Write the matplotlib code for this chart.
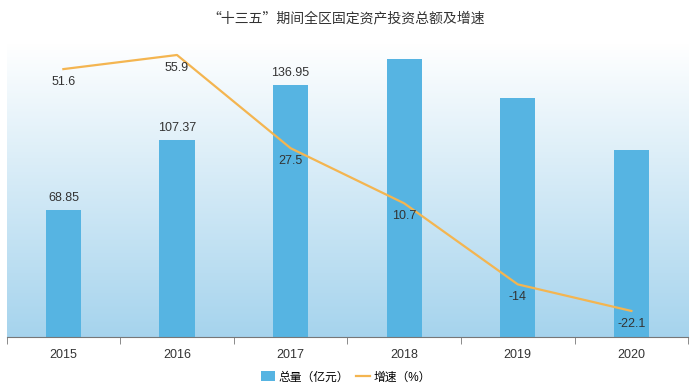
import numpy as np
import matplotlib.pyplot as plt
from matplotlib.patches import Patch
from matplotlib.lines import Line2D

plt.rcParams['font.family'] = ['Liberation Sans', 'Noto Sans CJK SC', 'DejaVu Sans']

years = ["2015", "2016", "2017", "2018", "2019", "2020"]
total = [68.85, 107.37, 136.95, 151.6, 130.4, 101.6]          # 亿元
growth = [51.6, 55.9, 27.5, 10.7, -14, -22.1]                  # %
total_labels = ["68.85", "107.37", "136.95", "", "", ""]
growth_labels = ["51.6", "55.9", "27.5", "10.7", "-14", "-22.1"]

bar_color = "#56b4e2"
line_color = "#f4b550"

fig = plt.figure(figsize=(6.92, 3.89), dpi=100)
ax = fig.add_axes([0.0095, 0.134, 0.985, 0.755])
x = np.arange(len(years))

# gradient background (white at top -> light blue at bottom)
grad = np.linspace(0, 1, 256).reshape(-1, 1)
top = np.array([1.0, 1.0, 1.0])
bot = np.array([0.65, 0.83, 0.93])
img = top + (bot - top) * grad[..., None]
ax.imshow(img, extent=[-0.5, 5.5, 0, 160], aspect="auto", zorder=0, origin="upper")

ax.bar(x, total, width=0.31, color=bar_color, zorder=2)
for xi, v, lab in zip(x, total, total_labels):
    if lab:
        ax.annotate(lab, (xi, v), xytext=(0, 12), textcoords="offset pixels",
                    ha="center", va="center", fontsize=9, color="#333333")

ax.set_xlim(-0.5, 5.5)
ax.set_ylim(0, 160)
ax.set_yticks([])
for s in ["top", "left", "right"]:
    ax.spines[s].set_visible(False)
ax.spines["bottom"].set_color("#777777")
ax.set_xticks(x)
ax.set_xticklabels(years, fontsize=9, color="#333333")
ax.tick_params(axis="x", which="major", length=0, pad=9)
ax.set_xticks(np.arange(-0.5, 6, 1), minor=True)
ax.tick_params(axis="x", which="minor", length=5, color="#777777")

ax2 = ax.twinx()
ax2.plot(x, growth, color=line_color, linewidth=1.6, zorder=3)
for xi, v, lab in zip(x, growth, growth_labels):
    ax2.annotate(lab, (xi, v), xytext=(0, -13), textcoords="offset pixels",
                 ha="center", va="center", fontsize=9, color="#333333")
ax2.set_ylim(-30, 59.5)
ax2.set_yticks([])
for s in ["top", "left", "right", "bottom"]:
    ax2.spines[s].set_visible(False)

fig.text(0.5, 0.953, "“十三五”期间全区固定资产投资总额及增速", ha="center", va="center",
         fontsize=10, color="#333333", family=["Noto Sans CJK SC", "DejaVu Sans"])

handles = [Patch(facecolor=bar_color, edgecolor="none"),
           Line2D([0], [0], color=line_color, linewidth=1.6)]
fig.legend(handles, ["总量（亿元）", "增速（%）"], loc="center", bbox_to_anchor=(0.5, 0.03),
           ncol=2, frameon=False, fontsize=8.5, handlelength=1.2, handleheight=0.9,
           columnspacing=0.6, handletextpad=0.3)

fig.savefig("out.png", dpi=100)
